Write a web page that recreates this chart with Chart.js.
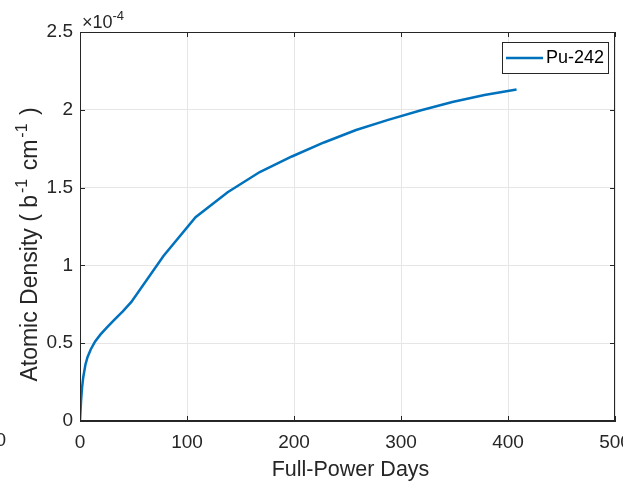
<!DOCTYPE html>
<html>
<head>
<meta charset="utf-8">
<script src="https://cdn.jsdelivr.net/npm/chart.js@4"></script>
<style>
  html, body { margin: 0; padding: 0; background: #fff; }
  #wrap { width: 623px; height: 481px; }
</style>
</head>
<body>
<div id="wrap"><canvas id="myChart" width="623" height="481"></canvas></div>
<script>
// Full-power days and Pu-242 atomic density (in units of 1e-4 b^-1 cm^-1)
const days = [0, 1, 2, 3, 5, 7, 10, 14, 19, 25, 32, 40, 48, 78, 108, 138, 168, 198, 228, 258, 288, 318, 348, 378, 408];
const pu242 = [0, 0.13, 0.22, 0.28, 0.36, 0.41, 0.46, 0.51, 0.555, 0.60, 0.65, 0.705, 0.765, 1.06, 1.31, 1.47, 1.60, 1.70, 1.79, 1.87, 1.935, 1.995, 2.05, 2.095, 2.13];
const exponent = -4;

const xTicks = [0, 100, 200, 300, 400, 500];
const yTicks = [0, 0.5, 1, 1.5, 2, 2.5];

const seriesLabel = "Pu-242";
const xTitle = "Full-Power Days";
// y title pieces: [text, superscript?]
const yTitle = [["Atomic Density ( b", false], ["-1", true], [" cm", false], ["-1", true], [" )", false]];

const lineColor = "#0072BD";
const axisColor = "#262626";
const gridColor = "#e6e6e6";
const fontFamily = "'Liberation Sans', Arial, Helvetica, sans-serif";

const points = days.map((d, i) => ({ x: d, y: pu242[i] }));

// box, inner ticks, titles, exponent and legend like a matlab axes
const matlabAxes = {
  id: "matlabAxes",
  afterDraw(chart) {
    const { ctx, chartArea: a, scales } = chart;
    ctx.save();
    ctx.strokeStyle = axisColor;
    ctx.lineWidth = 1;
    ctx.strokeRect(a.left + 0.5, a.top + 0.5, a.right - a.left - 1, a.bottom - a.top - 1);

    ctx.beginPath();
    xTicks.forEach(t => {
      const px = Math.round(scales.x.getPixelForValue(t)) + 0.5;
      ctx.moveTo(px, a.bottom); ctx.lineTo(px, a.bottom - 5);
      ctx.moveTo(px, a.top); ctx.lineTo(px, a.top + 5);
    });
    yTicks.forEach(t => {
      const py = Math.round(scales.y.getPixelForValue(t)) + 0.5;
      ctx.moveTo(a.left, py); ctx.lineTo(a.left + 5, py);
      ctx.moveTo(a.right, py); ctx.lineTo(a.right - 5, py);
    });
    ctx.stroke();

    ctx.fillStyle = axisColor;
    ctx.textBaseline = "alphabetic";

    // exponent label
    ctx.textAlign = "left";
    ctx.font = "18px " + fontFamily;
    ctx.fillText("\u00d710", a.left + 2, a.top - 4);
    const w = ctx.measureText("\u00d710").width;
    ctx.font = "13px " + fontFamily;
    ctx.fillText(String(exponent), a.left + 2 + w, a.top - 12);

    // x title
    ctx.font = "21.5px " + fontFamily;
    ctx.textAlign = "center";
    ctx.fillText(xTitle, (a.left + a.right) / 2 + 3, 476);

    // y title with superscripts, rotated
    const mainFont = "23px " + fontFamily, supFont = "16px " + fontFamily;
    const gap = 2;
    let total = 0;
    yTitle.forEach(([s, sup]) => { ctx.font = sup ? supFont : mainFont; total += ctx.measureText(s).width + gap; });
    ctx.translate(37, (a.top + a.bottom) / 2 + 17);
    ctx.rotate(-Math.PI / 2);
    ctx.textAlign = "left";
    let cx = -total / 2;
    yTitle.forEach(([s, sup]) => {
      ctx.font = sup ? supFont : mainFont;
      ctx.fillText(s, cx, sup ? -10 : 0);
      cx += ctx.measureText(s).width + gap;
    });
    ctx.setTransform(1, 0, 0, 1, 0, 0);

    // stray label at the far left of the x axis
    ctx.font = "19px " + fontFamily;
    ctx.textAlign = "right";
    ctx.textBaseline = "middle";
    ctx.fillText("0", 6, 441);

    // legend
    const bx = a.right - 113, by = a.top + 10, bw = 106, bh = 31;
    ctx.fillStyle = "#fff";
    ctx.fillRect(bx, by, bw, bh);
    ctx.strokeStyle = axisColor;
    ctx.lineWidth = 1;
    ctx.strokeRect(bx + 0.5, by + 0.5, bw, bh);
    ctx.strokeStyle = lineColor;
    ctx.lineWidth = 2.5;
    ctx.beginPath();
    ctx.moveTo(bx + 4, by + bh / 2 + 0.5);
    ctx.lineTo(bx + 41, by + bh / 2 + 0.5);
    ctx.stroke();
    ctx.fillStyle = "#000";
    ctx.textAlign = "left";
    ctx.font = "18px " + fontFamily;
    ctx.fillText(chart.data.datasets[0].label, bx + 44, by + bh / 2 + 1);
    ctx.restore();
  }
};

const ctx = document.getElementById("myChart").getContext("2d");

const myChart = new Chart(ctx, {
  type: "line",
  data: {
    datasets: [
      {
        label: seriesLabel,
        data: points,
        borderColor: lineColor,
        backgroundColor: lineColor,
        borderWidth: 2.5,
        pointRadius: 0,
        fill: false,
        tension: 0,
      },
    ],
  },
  options: {
    responsive: false,
    animation: false,
    events: [],
    layout: { padding: { left: 0, right: 8, top: 32, bottom: 0 } },
    plugins: {
      legend: { display: false },
      tooltip: { enabled: false },
    },
    scales: {
      x: {
        type: "linear",
        min: 0,
        max: 500,
        afterBuildTicks: (scale) => { scale.ticks = xTicks.map(v => ({ value: v })); },
        afterFit: (scale) => { scale.height = 60; scale.paddingLeft = 0; scale.paddingRight = 0; },
        grid: { color: gridColor, drawTicks: false },
        border: { color: axisColor },
        ticks: {
          color: axisColor,
          padding: 10,
          maxRotation: 0,
          autoSkip: false,
          font: { family: fontFamily, size: 19 },
          callback: (v) => String(v),
        },
      },
      y: {
        type: "linear",
        min: 0,
        max: 2.5,
        afterBuildTicks: (scale) => { scale.ticks = yTicks.map(v => ({ value: v })); },
        afterFit: (scale) => { scale.width = 80; scale.paddingTop = 0; scale.paddingBottom = 0; },
        grid: { color: gridColor, drawTicks: false },
        border: { color: axisColor },
        ticks: {
          color: axisColor,
          padding: 7,
          autoSkip: false,
          font: { family: fontFamily, size: 19 },
          callback: (v) => String(v),
        },
      },
    },
  },
  plugins: [matlabAxes],
});
</script>
</body>
</html>
